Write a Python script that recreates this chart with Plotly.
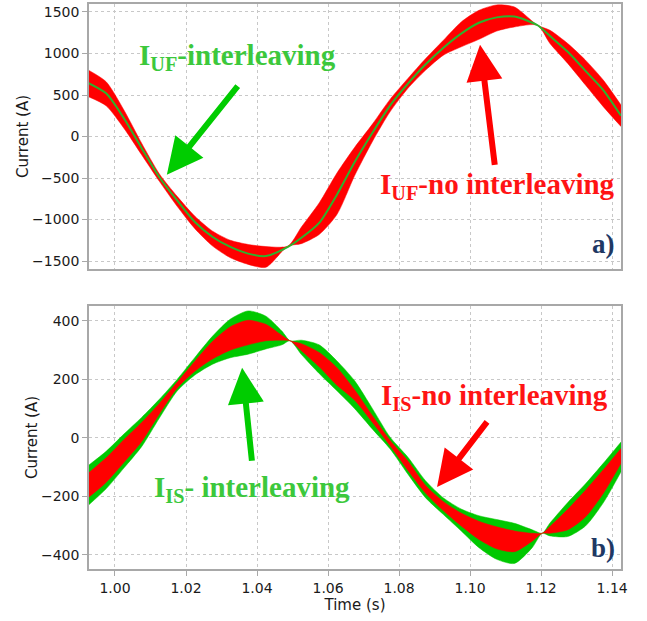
import plotly.graph_objects as go
from plotly.subplots import make_subplots

# ---------------- data ----------------
t_top = [0.9925, 0.9975, 1.0025, 1.0075, 1.0125, 1.0175, 1.0225, 1.0275, 1.0325, 1.0375,
         1.0425, 1.0487, 1.0525, 1.0575, 1.0625, 1.0675, 1.0725, 1.0775, 1.0825, 1.0875,
         1.0925, 1.0975, 1.1025, 1.1075, 1.1125, 1.1190, 1.1225, 1.1275, 1.1325, 1.1375, 1.1425]
iuf_int = [645, 520, 220, -140, -490, -770, -1030, -1210, -1330, -1410,
           -1440, -1330, -1220, -1040, -700, -307, 45, 375, 637, 870,
           1070, 1240, 1370, 1435, 1445, 1340, 1210, 1020, 790, 560, 250]
iuf_noint_upper = [800, 660, 320, -80, -450, -720, -960, -1140, -1250, -1300,
                   -1325, -1320, -1090, -800, -440, -130, 150, 450, 700, 940,
                   1160, 1380, 1520, 1585, 1560, 1340, 1280, 1120, 920, 680, 380]
iuf_noint_lower = [480, 370, 100, -220, -540, -840, -1110, -1320, -1460, -1540,
                   -1575, -1320, -1290, -1180, -940, -470, -60, 300, 580, 800,
                   980, 1080, 1170, 1270, 1320, 1340, 1120, 880, 620, 360, 120]

t_bot = [0.9925, 0.9975, 1.0025, 1.0075, 1.0125, 1.0175, 1.0225, 1.0275, 1.0325, 1.0375,
         1.0425, 1.0470, 1.0493, 1.0525, 1.0575, 1.0625, 1.0675, 1.0725, 1.0775, 1.0825,
         1.0875, 1.0925, 1.0975, 1.1025, 1.1075, 1.1125, 1.1175, 1.1203, 1.1225, 1.1275,
         1.1325, 1.1375, 1.1425]
iis_int_upper = [-94, -46, 13, 70, 132, 200, 275, 348, 406, 434,
                 416, 365, 332, 334, 318, 263, 195, 100, 2, -66,
                 -147, -205, -243, -266, -279, -292, -314, -326, -291, -221,
                 -157, -87, -14]
iis_int_lower = [-230, -174, -103, -30, 68, 160, 215, 252, 274, 286,
                 304, 318, 332, 285, 220, 161, 100, 30, -38, -124,
                 -205, -262, -318, -375, -415, -429, -375, -326, -335, -337,
                 -301, -222, -116]
iis_noint_upper = [-120, -68, -6, 53, 118, 190, 262, 330, 380, 402,
                   388, 350, 332, 322, 292, 240, 164, 76, -9, -79,
                   -163, -218, -257, -285, -304, -318, -326, -326, -303, -244,
                   -179, -109, -36]
iis_noint_lower = [-204, -152, -84, -13, 82, 170, 228, 270, 300, 318,
                   332, 334, 332, 298, 243, 180, 129, 53, -27, -111,
                   -189, -249, -301, -347, -379, -389, -353, -326, -326, -314,
                   -270, -190, -87]

x_ticks = [1.00, 1.02, 1.04, 1.06, 1.08, 1.10, 1.12, 1.14]
y_ticks_top = [-1500, -1000, -500, 0, 500, 1000, 1500]
y_ticks_bot = [-400, -200, 0, 200, 400]

RED = "#ff0000"
GREEN_BAND = "#00c800"
GREEN_LINE = "#2db32d"
GREEN_TEXT = "#3cc83c"
RED_TEXT = "#ff1414"
NAVY = "#1f3864"
FRAME = "#a8a8a8"
TXT = "#1a1a1a"
SANS = "DejaVu Sans"

fig = make_subplots(rows=2, cols=1, shared_xaxes=True, vertical_spacing=0.065)

def band(t, up, lo, color, row):
    fig.add_trace(go.Scatter(x=t, y=lo, mode="lines",
                             line=dict(color=color, width=0.5, shape="spline", smoothing=0.7),
                             showlegend=False, hoverinfo="skip"), row=row, col=1)
    fig.add_trace(go.Scatter(x=t, y=up, mode="lines",
                             line=dict(color=color, width=0.5, shape="spline", smoothing=0.7),
                             fill="tonexty", fillcolor=color, showlegend=False, hoverinfo="skip"), row=row, col=1)

band(t_top, iuf_noint_upper, iuf_noint_lower, RED, 1)
fig.add_trace(go.Scatter(x=t_top, y=iuf_int, mode="lines",
                         line=dict(color=GREEN_LINE, width=2, shape="spline", smoothing=0.7),
                         showlegend=False, hoverinfo="skip"), row=1, col=1)
band(t_bot, iis_int_upper, iis_int_lower, GREEN_BAND, 2)
band(t_bot, iis_noint_upper, iis_noint_lower, RED, 2)

axis_common = dict(showline=True, linecolor=FRAME, linewidth=1.5, mirror=True,
                   showgrid=True, gridcolor="#c8c8c8", griddash="dot", gridwidth=1,
                   zeroline=False, tickfont=dict(family=SANS, size=14, color=TXT))

fig.update_xaxes(range=[0.99268, 1.1425], tickvals=x_ticks, **axis_common)
fig.update_xaxes(showticklabels=False, ticks="", row=1, col=1)
fig.update_xaxes(ticks="outside", ticklen=5, tickcolor=FRAME, tickformat=".2f",
                 title=dict(text="Time (s)", font=dict(family=SANS, size=15, color=TXT), standoff=3),
                 row=2, col=1)
fig.update_yaxes(range=[-1596, 1596], tickvals=y_ticks_top, ticks="outside", ticklen=5, tickcolor=FRAME,
                 title=dict(text="Current (A)", font=dict(family=SANS, size=15, color=TXT), standoff=0),
                 row=1, col=1, **axis_common)
fig.update_yaxes(range=[-448, 451], tickvals=y_ticks_bot, ticks="outside", ticklen=5, tickcolor=FRAME,
                 title=dict(text="Current (A)", font=dict(family=SANS, size=15, color=TXT), standoff=0),
                 row=2, col=1, **axis_common)

fig.update_layout(width=647, height=621, margin=dict(l=89, r=26, t=2, b=52),
                  paper_bgcolor="white", plot_bgcolor="white")
fig.update_layout(yaxis=dict(domain=[0.5309, 1.0]), yaxis2=dict(domain=[0.0, 0.4656]))

SERIF = "Liberation Serif"

def label(text, x, y, color, xref, yref, size=29):
    fig.add_annotation(text=text, x=x, y=y, xref=xref, yref=yref, showarrow=False,
                       font=dict(family=SERIF, size=size, color=color), xanchor="center", yanchor="middle")

def arrow(x, y, ax, ay, color, xref, yref):
    fig.add_annotation(text="", x=x, y=y, ax=ax, ay=ay, xref=xref, yref=yref, axref=xref, ayref=yref,
                       showarrow=True, arrowhead=2, arrowsize=1.2, arrowwidth=6, arrowcolor=color, standoff=0)

label("<b>I<sub>UF</sub>-interleaving</b>", 1.0344, 960, GREEN_TEXT, "x", "y")
label("<b>I<sub>UF</sub>-no interleaving</b>", 1.1076, -600, RED_TEXT, "x", "y")
label("<b>a)</b>", 1.1375, -1300, NAVY, "x", "y", size=27)
arrow(1.0146, -459, 1.0349, 624, "#00cc00", "x", "y")
arrow(1.1028, 1104, 1.107, -360, RED, "x", "y")

label("<b>I<sub>IS</sub>-no interleaving</b>", 1.1070, 141, RED_TEXT, "x2", "y2")
label("<b>I<sub>IS</sub>- interleaving</b>", 1.0386, -175, GREEN_TEXT, "x2", "y2")
label("<b>b)</b>", 1.1375, -375, NAVY, "x2", "y2", size=27)
arrow(1.0907, -168, 1.1051, 60, RED, "x2", "y2")
arrow(1.0358, 240, 1.0386, -83, "#00cc00", "x2", "y2")

fig.write_html("out.html")
